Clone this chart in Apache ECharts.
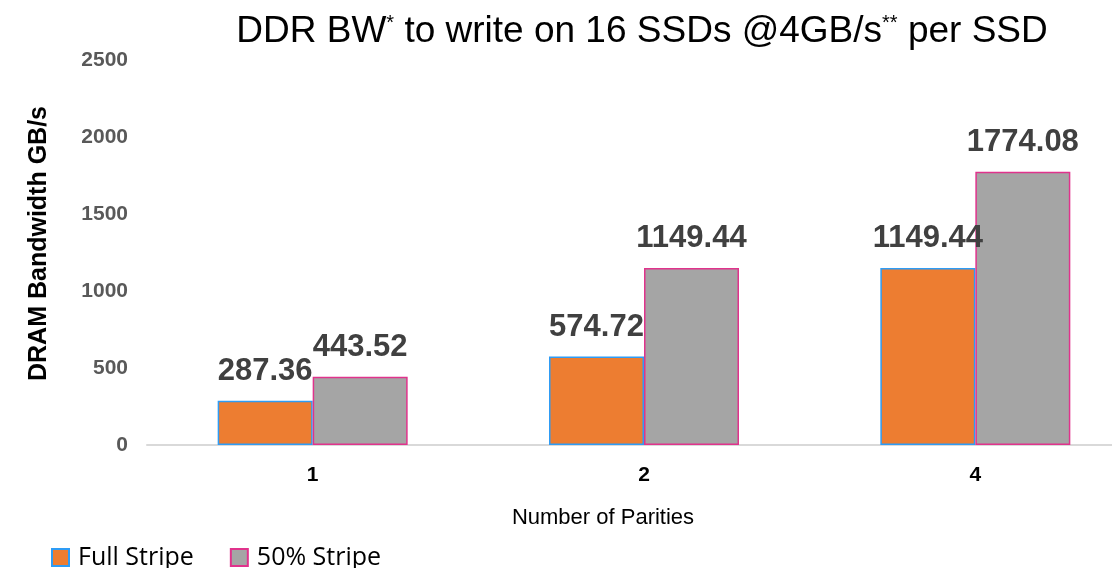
<!DOCTYPE html>
<html>
<head>
    <meta charset="UTF-8">
    <title>DDR BW to write on 16 SSDs</title>
    <script src="https://cdn.jsdelivr.net/npm/echarts@6/dist/echarts.min.js"></script>
</head>
<body style="margin:0;overflow:hidden">
<!-- the plot area runs past the right edge in the original, so the box is wider than the window -->
<div id="main" style="width: 1141px;height:568px;"></div>
<script type="text/javascript">
    // data
    let parities = ['1', '2', '4'];
    let fullStripe = [287.36, 574.72, 1149.44];
    let halfStripe = [443.52, 1149.44, 1774.08];
    let yTicks = [0, 500, 1000, 1500, 2000, 2500];

    var myChart = echarts.init(document.getElementById('main'));

    let labelStyle = {
        show: true,
        position: 'top',
        distance: 14,
        fontFamily: 'Liberation Sans, Arial',
        fontWeight: 'bold',
        fontSize: 31,
        color: '#404040'
    };

    let option = {
        animation: false,
        backgroundColor: '#fff',
        title: {
            text: 'DDR BW{sup|*} to write on 16 SSDs @4GB/s{sup|**} per SSD',
            left: 637,
            textAlign: 'center',
            top: 8,
            textStyle: {
                fontFamily: 'Liberation Sans, Arial',
                fontWeight: 'normal',
                fontSize: 37,
                color: '#000',
                rich: {
                    sup: {
                        fontFamily: 'Liberation Sans, Arial',
                        fontSize: 20,
                        color: '#000',
                        verticalAlign: 'top',
                        padding: [0, 0, 16, 0]
                    }
                }
            }
        },
        legend: {
            left: 46,
            top: 540,
            icon: 'rect',
            itemWidth: 17,
            itemHeight: 17,
            itemGap: 36,
            textStyle: {
                fontFamily: 'Open Sans, Noto Sans',
                fontSize: 25,
                color: '#000',
                padding: [0, 0, 0, 4]
            },
            data: ['Full Stripe', '50% Stripe']
        },
        grid: {
            left: 147,
            top: 60,
            right: 0,
            bottom: 123,
            containLabel: false
        },
        xAxis: {
            type: 'category',
            data: parities,
            name: 'Number of Parities',
            nameLocation: 'middle',
            nameGap: 62,
            nameTextStyle: {
                fontFamily: 'Liberation Sans, Arial',
                fontSize: 22,
                color: '#000',
                padding: [0, 82, 0, 0]
            },
            axisLine: {lineStyle: {color: '#D9D9D9', width: 2}},
            axisTick: {show: false},
            axisLabel: {
                margin: 20,
                fontFamily: 'Liberation Sans, Arial',
                fontWeight: 'bold',
                fontSize: 21,
                color: '#000'
            }
        },
        yAxis: {
            type: 'value',
            min: yTicks[0],
            max: yTicks[yTicks.length - 1],
            interval: 500,
            name: 'DRAM Bandwidth GB/s',
            nameLocation: 'middle',
            nameGap: 95,
            nameTextStyle: {
                fontFamily: 'Liberation Sans, Arial',
                fontWeight: 'bold',
                fontSize: 25,
                color: '#000',
                padding: [0, 0, 0, 18]
            },
            axisLine: {show: false},
            axisTick: {show: false},
            splitLine: {show: false},
            axisLabel: {
                margin: 19,
                fontFamily: 'Liberation Sans, Arial',
                fontWeight: 'bold',
                fontSize: 21,
                color: '#595959',
                formatter: v => String(v)
            }
        },
        series: [
            {
                name: 'Full Stripe',
                type: 'bar',
                data: fullStripe,
                barWidth: 95,
                barGap: '0%',
                itemStyle: {color: '#ED7D31', borderColor: '#2E9CF5', borderWidth: 1.5},
                label: labelStyle
            },
            {
                name: '50% Stripe',
                type: 'bar',
                data: halfStripe,
                barWidth: 95,
                barGap: '0%',
                itemStyle: {color: '#A5A5A5', borderColor: '#E0338C', borderWidth: 1.5},
                label: labelStyle
            }
        ]
    };

    myChart.setOption(option);
</script>
</body>
</html>
